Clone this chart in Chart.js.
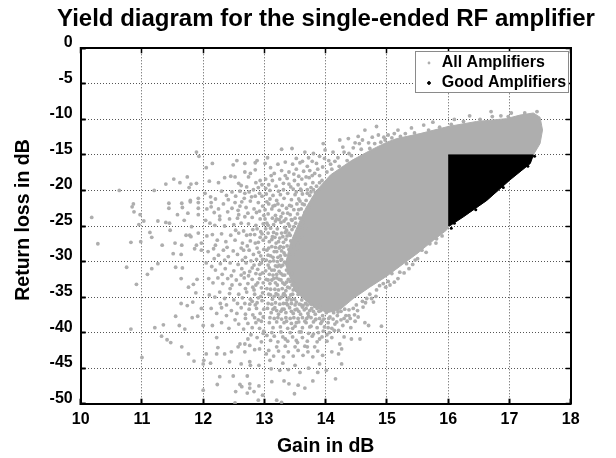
<!DOCTYPE html>
<html lang="en">
<head>
<meta charset="UTF-8">
<title>Yield diagram</title>
<script src="https://cdn.jsdelivr.net/npm/chart.js@4"></script>
<style>
body { margin: 0; background: #fff; }
canvas { display: block; }
</style>
</head>
<body>
<canvas id="chart" width="616" height="458"></canvas>
<script>
const titleText = 'Yield diagram for the single-ended RF amplifier';
const xLabel = 'Gain in dB';
const yLabel = 'Return loss in dB';
const seriesNames = ['All Amplifiers', 'Good Amplifiers'];

// outline of the solid grey part of the cloud
const coreOutline = [[13.34,-30.5],[13.42,-27.5],[13.54,-25],[13.68,-22.4],[13.85,-20],[14.08,-17.8],[14.42,-15.8],[14.74,-14.3],[15,-13.2],[15.16,-12.7],[15.54,-12],[16,-11],[16.46,-10.3],[16.95,-9.9],[17.17,-9.4],[17.39,-9.1],[17.5,-9.7],[17.54,-11.5],[17.5,-13.4],[17.39,-15],[17.34,-16.2],[17.01,-18.5],[16.63,-21.4],[16.25,-23.7],[16.02,-25],[15.97,-25.6],[15.76,-27],[15.49,-28.9],[15.27,-30.3],[14.99,-32.1],[14.72,-33.6],[14.45,-35.2],[14.23,-36.8],[14.02,-37.2],[13.74,-36],[13.48,-34]];

// outline of the solid black block of good amplifiers
const goodOutline = [[16,-15],[17.39,-15],[17.34,-16.2],[17.01,-18.5],[16.63,-21.4],[16.25,-23.7],[16.02,-25],[16,-24.9]];
const goodStray = [[16.05,-25.3],[16.1,-24.6],[17.41,-15.2],[17.3,-16.6],[16.9,-19.6],[16.45,-22.7]];

// single grey dots, estimated by eye
const allStray = [
[10.18,-23.8],[10.63,-20],[10.86,-21.9],[10.84,-22.3],[10.87,-23],[10.97,-23.4],[10.95,-24.8],[11.03,-24.3],[11.2,-20],[11.26,-24.3],[11.39,-19.1],[11.52,-18.4],[11.62,-18.9],[11.74,-18.1],[11.77,-19.6],[11.89,-19],[11.8,-19.1],[11.89,-14.6],[11.93,-15.2],[11.44,-21.8],[11.44,-22.5],[11.65,-21.8],[11.66,-22.4],[11.79,-21.4],[11.79,-21.6],[11.92,-21.1],[11.92,-21.7],[11.92,-22.5],[11.92,-23.4],[11.58,-23.4],[11.75,-23.2],[11.69,-24.2],[11.39,-24.5],[11.45,-24.6],[11.13,-25.9],[11.16,-26.6],[11.46,-25.6],[11.81,-25.1],[11.72,-26.3],[11.8,-26.5],
[10.28,-27.5],[10.82,-27.3],[10.98,-27.2],[10.75,-30.8],[10.91,-33.2],[11.09,-31.8],[11.16,-31],[11.26,-30.3],[10.82,-39.5],[11.21,-39.3],[11.35,-38.9],[11.32,-40.5],[11.41,-41],[11.47,-41.4],[11.55,-37.7],[11.61,-39],[11.7,-39.5],[11.65,-42],[11.76,-43],[11.85,-44],[11,-43.5],[11.55,-30.8],[11.66,-30.9],[11.64,-32.4],[11.76,-33.6],[11.84,-33.2],[11.9,-32.5],[11.88,-34.4],[11.64,-35.9],[11.74,-36.2],[11.83,-35.7],[11.82,-37.9],[11.91,-37.7],[11.97,-36.6],[12,-39],[12.01,-43.9],[12,-44.4],[12,-48.1],[11.33,-27.7],[11.54,-27.4],[11.51,-28.9],[11.64,-29],[11.65,-27.7],[11.78,-26.3],[11.89,-27.7],[11.86,-28.2],[11.97,-28.4],[11.97,-27.4],[11.92,-26],
[12.05,-43],[12.12,-44.3],[12.22,-43],[12.35,-43],[12.24,-42.1],[12.22,-40.7],[12.27,-46.2],[12.23,-47.3],[12.49,-46.1],[12.53,-48.3],[12.6,-47.3],[12.63,-47.6],[12.72,-46.1],[12.76,-47.2],[12.76,-47.8],[12.72,-48.5],[12.83,-48.3],[12.91,-47.5],[12.9,-49.5],[12.97,-48.8],[12.52,-49.9],[12.46,-42.7],[12.57,-42],[12.68,-42.7],[12.43,-44.1],[12.62,-44.4],[12.76,-44.1],[12.77,-44.6],[12.91,-44.6],[12.6,-41.6],[12.68,-41.6],[12.76,-41.8],[12.73,-40.9],[12.84,-42.4],[12.92,-42.3],[12.95,-41.3],[12.98,-40.1],
[13.03,-43],[13.09,-43.9],[13.11,-45.1],[13.25,-45.3],[13.39,-45.2],[13.2,-49.5],[13.28,-49.8],[13.4,-47.2],[13.49,-48.6],[13.55,-47.4],[13.66,-47.8],[13.79,-46.8],[13.87,-45.6],[14.16,-46.5],[14.26,-44.4],[14.01,-45.3],[14.1,-42.7],[14.21,-43],[14.26,-42.3],[14.23,-41.6],[14.3,-40.6],[14.42,-40.9],[14.56,-40.9],[14.91,-39.1],[14.7,-39],[14.64,-38.6],[14.41,-39.3],[14.21,-39.7],[14.53,-37.8],[14.4,-38],[14.61,-36.4],[14.78,-35.7],[14.67,-35.2],[14.94,-33.1],[14.83,-34],[15.08,-31.7],[15.21,-31.5],[15.18,-32.4],[15.32,-30.3],[15.46,-29.8],[15.57,-28.4],[15.7,-27.5],[15.81,-26.8],
[13.28,-14.2],[13.45,-14.1],[13.66,-14.6],[13.8,-14.8],[13.96,-13.4],[13.99,-14.3],[14.23,-12.9],[14.37,-12.7],[14.53,-12.4],[14.64,-11.5],[14.83,-11],[14.86,-12.2],[14.97,-12.9],[15.18,-11.5],[12.49,-16.4],[12.55,-15.8],[12.68,-16.2],[12.85,-16.1],[12.88,-15.8],[12.68,-17.4],[12.77,-17.6],[12.85,-17.1],[12.52,-18.1],[12.74,-18.1],[12.58,-19],[12.71,-19.5],
[15.4,-11.2],[15.6,-10.8],[15.75,-10.4],[16.1,-10],[16.35,-9.5],[16.7,-8.9],[17.03,-9.1],[16.86,-9.5],[15.3,-12],[15.02,-12.2],[14.7,-13.3],[14.45,-14],[14.2,-15.4],[14.05,-15.8],[13.85,-16.2],[13.7,-16.6],[14.3,-14.6],[14.6,-12.9],[14.1,-17],[13.9,-17.9],
[12.05,-16.8],[12.15,-16.2],[12.1,-18.7],[12.25,-18.9],[12.35,-18.2],[12.45,-18],[12.03,-20.4],[12.12,-20.9],[12.2,-21.2],[12.3,-20.1],[12.38,-20.7],[12.47,-20.2],[12.53,-20.8],[12.6,-20.1],[12.68,-20.4],[12.75,-20.2],[12.82,-19.9],[12.9,-19.6],[12.96,-19.2],[12.06,-22.6],[12.13,-22.3],[12.18,-23.1],[12.25,-22.6],[12.33,-21.9],[12.4,-23],[12.47,-22.5],[12.52,-21.7],[12.57,-22.8],[12.63,-21.6],[12.7,-22.4],[12.77,-21.5],[12.83,-22.6],[12.9,-21.7],[12.97,-22.2],[12.04,-24.2],[12.11,-24.6],[12.19,-24.9],[12.27,-24.1],[12.35,-25],[12.43,-24],[12.5,-24.8],[12.56,-23.9],[12.62,-24.6],[12.68,-23.7],[12.74,-24.7],[12.8,-23.8],[12.86,-24.9],[12.93,-24],[12.98,-24.7],
[12.06,-26.4],[12.15,-26.2],[12.23,-27],[12.3,-26.1],[12.37,-27.2],[12.45,-26.3],[12.52,-27],[12.58,-26],[12.64,-27.4],[12.71,-26.3],[12.77,-27.1],[12.84,-26.2],[12.9,-27.3],[12.96,-26.1],[12.08,-28.6],[12.17,-28.2],[12.25,-29.1],[12.33,-28.4],[12.41,-29.3],[12.49,-28.5],[12.56,-29],[12.62,-28.1],[12.69,-29.4],[12.75,-28.4],[12.82,-29],[12.88,-28.1],[12.94,-29.2],[12.99,-28.3],[12.05,-30.2],[12.14,-30.7],[12.2,-31.2],[12.28,-30.3],[12.36,-31],[12.44,-30.2],[12.5,-31.3],[12.57,-30.4],[12.63,-31],[12.7,-30.2],[12.76,-31.4],[12.83,-30.5],[12.89,-31.1],[12.95,-30.2],[12.09,-32.4],[12.16,-33],[12.24,-32.3],[12.32,-33.1],[12.4,-32.4],[12.47,-33.3],[12.54,-32.6],[12.6,-33.2],[12.67,-32.3],[12.73,-33.1],[12.8,-32.5],[12.86,-33.3],[12.92,-32.4],[12.98,-33],
[12.1,-34.7],[12.19,-35],[12.27,-34.3],[12.35,-35.2],[12.43,-34.5],[12.5,-35.4],[12.58,-34.6],[12.64,-35.1],[12.71,-34.3],[12.77,-35.3],[12.84,-34.6],[12.9,-35.1],[12.97,-34.4],[12.13,-36.6],[12.22,-37.3],[12.3,-36.5],[12.38,-37.6],[12.46,-36.9],[12.55,-37.3],[12.62,-36.5],[12.69,-37.4],[12.75,-36.7],[12.81,-37.5],[12.87,-36.6],[12.93,-37.3],[12.99,-36.7],[12.15,-39],[12.3,-38.6],[12.42,-39.4],[12.58,-38.8],[12.66,-39.5],[12.73,-38.7],[12.8,-39.3],[12.86,-38.6],[12.92,-39.4],
[13.01,-16.2],[13.05,-15.4],[13.1,-16.8],[13.16,-17.6],[13.22,-16.3],[13.28,-17.2],[13.34,-16],[13.4,-17.4],[13.46,-16.3],[13.52,-17],[13.58,-16.1],[13.64,-17.3],[13.02,-18.4],[13.07,-19.2],[13.13,-18.6],[13.19,-19.4],[13.25,-18.4],[13.31,-19],[13.37,-18.3],[13.43,-19.5],[13.49,-18.6],[13.55,-19.2],[13.61,-18.4],[13.67,-19.1],[13.73,-18.2],[13.79,-18.9],[13.85,-19.4],[13.03,-20.5],[13.09,-21.2],[13.14,-20.7],[13.2,-21.4],[13.26,-20.6],[13.32,-21.1],[13.38,-20.4],[13.44,-21.3],[13.5,-20.6],[13.56,-21.2],[13.62,-20.5],[13.68,-21.4],[13.74,-20.7],[13.8,-21.1],[13.01,-22.7],[13.06,-23.3],[13.12,-22.6],[13.18,-23.5],[13.24,-22.8],[13.3,-23.2],[13.36,-22.5],[13.42,-23.4],[13.48,-22.7],[13.54,-23.3],[13.6,-22.6],[13.66,-23.1],[13.72,-22.4],[13.04,-24.6],[13.1,-25.3],[13.15,-24.8],[13.21,-25.4],[13.27,-24.5],[13.33,-25.2],[13.39,-24.7],[13.45,-25.5],[13.51,-24.6],[13.57,-25.2],[13.63,-24.5],[13.67,-25.3],
[13.02,-26.6],[13.08,-27.2],[13.13,-26.5],[13.19,-27.4],[13.25,-26.7],[13.31,-27.3],[13.37,-26.4],[13.43,-27.1],[13.49,-26.6],[13.55,-27.4],[13.61,-26.5],[13.04,-28.4],[13.1,-29.2],[13.16,-28.6],[13.22,-29.4],[13.28,-28.5],[13.34,-29.1],[13.4,-28.3],[13.46,-29],[13.52,-28.2],[13.06,-30.5],[13.12,-31.2],[13.18,-30.6],[13.24,-31.4],[13.3,-30.5],[13.36,-31.2],[13.42,-30.4],[13.03,-32.5],[13.09,-33.1],[13.15,-32.4],[13.21,-33.3],[13.27,-32.6],[13.33,-33.2],[13.39,-32.5],[13.45,-33.3],[13.51,-32.7],[13.07,-34.6],[13.13,-35.3],[13.19,-34.5],[13.25,-35.2],[13.31,-34.6],[13.37,-35.4],[13.43,-34.7],[13.49,-35.3],[13.55,-34.6],[13.61,-35.4],[13.67,-35.9],[13.05,-36.6],[13.11,-37.2],[13.17,-36.5],[13.23,-37.4],[13.29,-36.7],[13.35,-37.2],[13.41,-36.5],[13.47,-37.3],[13.53,-36.7],[13.59,-37.4],[13.65,-36.8],[13.71,-37.3],[13.77,-36.6],[13.83,-37.4],[13.89,-37],[13.95,-37.6],[14.01,-37.2],[14.07,-37.8],[14.13,-37.2],[14.19,-37.6],[14.25,-37],[14.31,-36.7],
[13.08,-38.6],[13.14,-39.3],[13.2,-38.5],[13.26,-39.2],[13.32,-38.6],[13.38,-39.4],[13.44,-38.7],[13.5,-39.1],[13.56,-38.5],[13.62,-39.3],[13.68,-38.6],[13.74,-39.2],[13.8,-38.5],[13.86,-39.3],[13.92,-38.7],[13.98,-39.2],[14.04,-38.6],[14.1,-39.4],[14.15,-38.8],[13.04,-40.4],[13.1,-41.1],[13.16,-40.5],[13.22,-41.3],[13.3,-40.6],[13.38,-41.2],[13.46,-40.6],[13.54,-41.4],[13.62,-40.7],[13.7,-41.2],[13.78,-40.5],[13.86,-41.3],[13.94,-40.6],[14.02,-41.2],[14.1,-40.7],[13.07,-42.5],[13.15,-43.3],[13.23,-42.6],[13.31,-43.4],[13.39,-42.7],[13.47,-43.3],[13.55,-42.5],[13.63,-43.2],[13.71,-42.7],[13.79,-43.4],[13.87,-42.6],[13.95,-43.2],
[13.12,-46.9],[13.32,-46.8],[13.58,-45.6],[13.72,-45],[13.5,-44.6],[13.3,-44.3],[13.9,-44.4],
[12.13,-21.7],[12.27,-23.6],[12.41,-21.3],[12.58,-23.4],[12.66,-25.7],[12.79,-20.9],[12.93,-18.6],[12.96,-20.8],[12.87,-23.1],[12.72,-27.8],[12.81,-25.5],[12.94,-25.8],[12.99,-23.5],[12.91,-28.7],[12.78,-29.9],[12.64,-29.8],[12.86,-31.7],[12.97,-31.6],[12.92,-30.4],[12.74,-32],[12.62,-31.9],[12.69,-33.8],[12.83,-34],[12.95,-33.7],[12.88,-35.8],[12.76,-36],[12.96,-35.5],[12.56,-35.9],[12.44,-33.8],[12.31,-31.8],[12.18,-29.6],[12.39,-28],[12.53,-25.6],[12.2,-27.7],[12.35,-29.8],[12.46,-32],[12.28,-35.9],[12.38,-36.1],[12.52,-38.2],[12.69,-38],[12.84,-37.9],[12.95,-38.4],[12.99,-39.8],[12.78,-40.3],[12.88,-40.7],
[13.02,-19.7],[13.11,-17.9],[13.09,-20],[13.17,-22.1],[13.04,-21.6],[13.13,-23.9],[13.23,-20.1],[13.29,-22.1],[13.2,-24],[13.35,-24],[13.31,-19.9],[13.41,-22.1],[13.47,-19.8],[13.53,-21.9],[13.59,-19.8],[13.65,-22],[13.5,-23.9],[13.44,-24.1],[13.58,-23.9],[13.7,-19.9],[13.76,-19.6],[13.83,-20.3],[13.01,-24],[13.06,-26],[13.15,-25.9],[13.2,-26.1],[13.28,-26],[13.34,-25.9],[13.4,-26],[13.45,-24.2],[13.02,-25.4],[13.07,-28.1],[13.12,-27.9],[13.18,-28],[13.24,-28.1],[13.31,-28],[13.37,-27.8],[13.43,-28.2],[13.48,-27.8],[13.03,-29.8],[13.09,-30],[13.15,-29.9],[13.21,-30],[13.27,-29.8],[13.33,-30.1],[13.39,-29.8],[13.02,-31.3],[13.08,-31.8],[13.14,-31.9],[13.2,-31.8],[13.27,-31.7],[13.33,-31.9],[13.39,-31.6],[13.45,-31.7],[13.04,-33.8],[13.1,-33.9],[13.17,-33.9],[13.23,-34],[13.29,-33.8],[13.35,-34.1],[13.41,-33.7],[13.47,-34],[13.53,-33.9],[13.06,-35.9],[13.12,-36],[13.18,-35.8],[13.25,-36],[13.31,-35.9],[13.38,-36.1],[13.44,-35.9],[13.5,-36.1],[13.57,-36],[13.63,-36.2],[13.7,-36.1],[13.76,-36],[13.82,-36.3],[13.9,-36.2],[14.12,-36.9],[14.2,-37.1],
[13.09,-37.9],[13.16,-38],[13.22,-37.9],[13.28,-38.1],[13.35,-37.9],[13.42,-38],[13.48,-37.9],[13.55,-38],[13.62,-37.9],[13.69,-38],[13.76,-37.9],[13.83,-38.2],[13.9,-38],[13.97,-38.1],[14.05,-38],[14.12,-38.1],[14.33,-37.6],[14.45,-36.6],[14.52,-36.9],[14.6,-35.6],[14.72,-34.6],[14.88,-33.4],[15.02,-32.8],[14.18,-38.5],[14.28,-39],[14.35,-38.4],[14.47,-37.5],[13.12,-40],[13.27,-39.9],[13.42,-40],[13.57,-39.9],[13.72,-40.1],[13.88,-40],[14.06,-40],[13.2,-42],[13.34,-41.9],[13.5,-42],[13.66,-41.9],[13.82,-42],
[14.35,-15.8],[14.22,-16.6],[14.02,-17.4],[13.94,-18.6],[13.82,-17.6],[13.76,-20.2],[13.88,-20.1],[14.42,-15.1],[14.58,-14.2],[14.72,-14.1],[14.9,-13.2],[15.08,-12.6],[15.22,-12.4],[15.45,-11.9],[15.68,-11.5],[15.86,-11.1],[16.05,-10.7],[16.25,-10.3],[16.52,-10],[16.72,-9.6],[16.98,-9.6],[17.25,-9.1],[17.45,-8.9],[15.12,-12],[14.95,-12.5],[14.8,-13.4],[14.55,-13.4],[14.38,-14.8],
[15.36,-31],[15.5,-29.6],[15.64,-28.7],[15.8,-27.4],[15.9,-26.4],[15.12,-32.9],[15.28,-31.6],[14.98,-33.6],[14.82,-34.9],[14.65,-35.8],[14.5,-36.1],[14.38,-36.8],[14.75,-35.2],[15.05,-33.3],[15.42,-30.4],
[12.62,-19.3],[12.86,-18.9],[12.67,-21.1],[12.85,-20.8],[12.92,-20.4],[12.73,-23.2],[12.92,-22.9],[12.6,-22.2],[12.77,-26.2],[12.88,-25.4],[12.66,-28.4],[12.85,-27.4],[12.98,-27],[12.93,-26.6],[12.8,-30.9],[12.87,-29.7],[12.97,-29.7],[12.67,-31.6],[12.93,-31.8],[12.81,-33.6],[12.89,-33],[12.94,-34.9],[12.8,-35.6],[12.68,-35.9],[12.85,-36.1],[12.98,-37.8],[12.9,-38.2],
[13.07,-21.9],[13.14,-22.2],[13.22,-21.9],[13.27,-23.7],[13.38,-23.2],[13.06,-24.9],[13.18,-24.3],[13.24,-24.1],[13.32,-24.3],[13.41,-25],[13.48,-25.1],[13.12,-26.9],[13.17,-26.6],[13.23,-27.2],[13.35,-26.9],[13.42,-26.3],[13.06,-29.1],[13.14,-29.4],[13.2,-28.6],[13.26,-29.2],[13.32,-28.8],[13.08,-30.9],[13.16,-31.2],[13.21,-30.7],[13.27,-30.7],[13.06,-32.6],[13.12,-32.6],[13.18,-33],[13.24,-32.5],[13.3,-33],[13.36,-32.9],[13.42,-32.8],[13.1,-34.7],[13.16,-34.9],[13.22,-34.7],[13.28,-35],[13.34,-34.8],[13.4,-35.1],[13.46,-34.6],[13.14,-36.7],[13.2,-36.9],[13.27,-37],[13.32,-36.7],[13.44,-37],[13.5,-36.8],[13.56,-37],[13.62,-36.4],[13.68,-36.6],[13.74,-36.9],[13.8,-37],[13.86,-36.6],[13.92,-36.9],
[13.72,-15.4],[13.9,-15.2],[14.12,-14.6],[14.28,-13.9],[14.48,-13.3],[14.76,-12.5],[13.52,-15.5],[13.62,-15.9],[13.78,-15.9],[13.95,-16.7],[14.15,-15.9],[13.74,-17.2],[13.87,-17],[13.98,-15.5],[14.08,-16.3],[13.56,-18],[13.68,-18.1],[13.78,-17.9],[13.9,-18.9],[13.48,-17.7],[13.34,-17.9],[13.6,-20],[13.7,-20.4],[13.8,-19.9],[13.52,-20.2],[13.4,-19.1],[13.58,-21.5],[13.62,-21.9],[13.56,-22.7],[13.44,-22.2],[13.36,-25.6],[13.3,-26.5],[13.26,-27.9],[13.28,-29.7],[13.24,-30.5],[13.2,-32.3],[13.3,-31.9],[13.32,-34.5],[13.38,-33.6],[13.44,-35.4],[13.36,-35.9],[13.52,-35.7],[13.6,-36.1],[13.72,-37.7],[13.84,-38.1],[13.94,-38.4],[14.04,-39.3],[14.14,-39.7],[14.25,-38.2],[14.38,-37.6],[14.48,-38.4],[13.66,-38.4],[13.76,-39.1],[13.6,-39.9],[13.8,-40.2],[13.96,-39.8],[13.46,-39.4],[13.36,-38.4],[13.52,-38.6],[14.3,-38],[14.02,-40.3],[13.9,-40.9],[13.7,-42],[13.52,-41.1],[13.34,-40.9]
];

const pin = { yTitle: 35, yTicks: 45.7, right: 45.3, bottom: 54.3, top: 11.5 };

// box behind the legend, it sits on top of the grid like the original one
const legendBox = {
  id: 'legendBox',
  afterLayout(chart) {
    const l = chart.legend;
    l.left = 420.3; l.right = 568; l.top = 51; l.bottom = 200;
    // title and y label are a bit off the axis centre in the original
    chart.titleBlock.left = 36; chart.titleBlock.right = 616;
    chart.scales.yLabelAxis.top -= 12;
  },
  afterDraw(chart) {
    const c = chart.ctx;
    c.save();
    c.fillStyle = '#fff';
    c.strokeStyle = '#8a8a8a';
    c.lineWidth = 1;
    c.fillRect(415.5, 51.5, 153, 41);
    c.strokeRect(415.5, 51.5, 153, 41);
    c.restore();
    chart.legend.draw();
  }
};

const boldFont = size => ({ family: '"Liberation Sans", Arial', weight: 'bold', size: size });

function axisBase(axis, position, min, max, step) {
  return {
    type: 'linear', axis: axis, position: position, min: min, max: max,
    ticks: { stepSize: step, display: false },
    border: { display: true, color: '#000', width: 2 },
    grid: { drawOnChartArea: false, tickLength: -5, tickColor: '#000', tickWidth: 1.5 }
  };
}

new Chart(document.getElementById('chart'), {
  type: 'scatter',
  plugins: [legendBox],
  data: {
    datasets: [
      { label: seriesNames[0], data: allStray.map(p => ({ x: p[0], y: p[1] })), order: 2,
        backgroundColor: '#aeaeae', borderWidth: 0, pointRadius: 1.9 },
      { label: 'core', data: coreOutline.map(p => ({ x: p[0], y: p[1] })), order: 3, showLine: true,
        fill: 'shape', backgroundColor: '#aeaeae', borderColor: '#aeaeae', borderWidth: 1, pointRadius: 0 },
      { label: seriesNames[1], data: goodOutline.map(p => ({ x: p[0], y: p[1] })), order: 1, showLine: true,
        fill: 'shape', backgroundColor: '#000', borderColor: '#000', borderWidth: 1, pointRadius: 0 },
      { label: 'stray', data: goodStray.map(p => ({ x: p[0], y: p[1] })), order: 0,
        backgroundColor: '#000', borderWidth: 0, pointRadius: 1.5 }
    ]
  },
  options: {
    responsive: false,
    animation: false,
    layout: { padding: 0 },
    plugins: {
      title: { display: true, text: titleText, color: '#000', fullSize: false,
        font: boldFont(24), padding: { top: 5, bottom: 3 } },
      legend: {
        position: 'chartArea',
        align: 'start',
        labels: {
          color: '#000', font: boldFont(16), usePointStyle: true, boxHeight: 2, boxWidth: 9.4, padding: 4,
          filter: item => seriesNames.includes(item.text),
          sort: (a, b) => a.datasetIndex - b.datasetIndex
        }
      },
      tooltip: { enabled: false }
    },
    scales: {
      x: {
        type: 'linear', position: 'bottom', min: 10, max: 18,
        ticks: { stepSize: 1, color: '#000', font: boldFont(16), padding: 11, maxRotation: 0 },
        border: { display: true, color: '#000', width: 2, dash: [1, 2] },
        grid: { color: '#555', tickLength: -5, tickColor: '#000', tickWidth: 2, tickBorderDash: [] },
        title: { display: true, text: xLabel, color: '#000', font: boldFont(19.5), padding: 0 },
        afterFit: s => { s.height = pin.bottom; }
      },
      y: {
        type: 'linear', position: 'left', min: -50, max: 0,
        ticks: { stepSize: 5, color: '#000', font: boldFont(16), padding: 13, labelOffset: -5.5 },
        border: { display: true, color: '#000', width: 2, dash: [1, 2] },
        grid: { color: '#555', tickLength: -5, tickColor: '#000', tickWidth: 2, tickBorderDash: [] },
        afterFit: s => { s.width = pin.yTicks; }
      },
      // empty axis that only carries the y label
      yLabelAxis: {
        type: 'linear', axis: 'y', position: 'left', weight: 10, min: -50, max: 0,
        ticks: { display: false },
        border: { display: false },
        grid: { display: false },
        title: { display: true, text: yLabel, color: '#000', font: boldFont(19.5), padding: { top: 12, bottom: 0 } },
        afterFit: s => { s.width = pin.yTitle; }
      },
      x2: Object.assign(axisBase('x', 'top', 10, 18, 1), { afterFit: s => { s.height = pin.top; } }),
      y2: Object.assign(axisBase('y', 'right', -50, 0, 5), { afterFit: s => { s.width = pin.right; } })
    }
  }
});
</script>
</body>
</html>
